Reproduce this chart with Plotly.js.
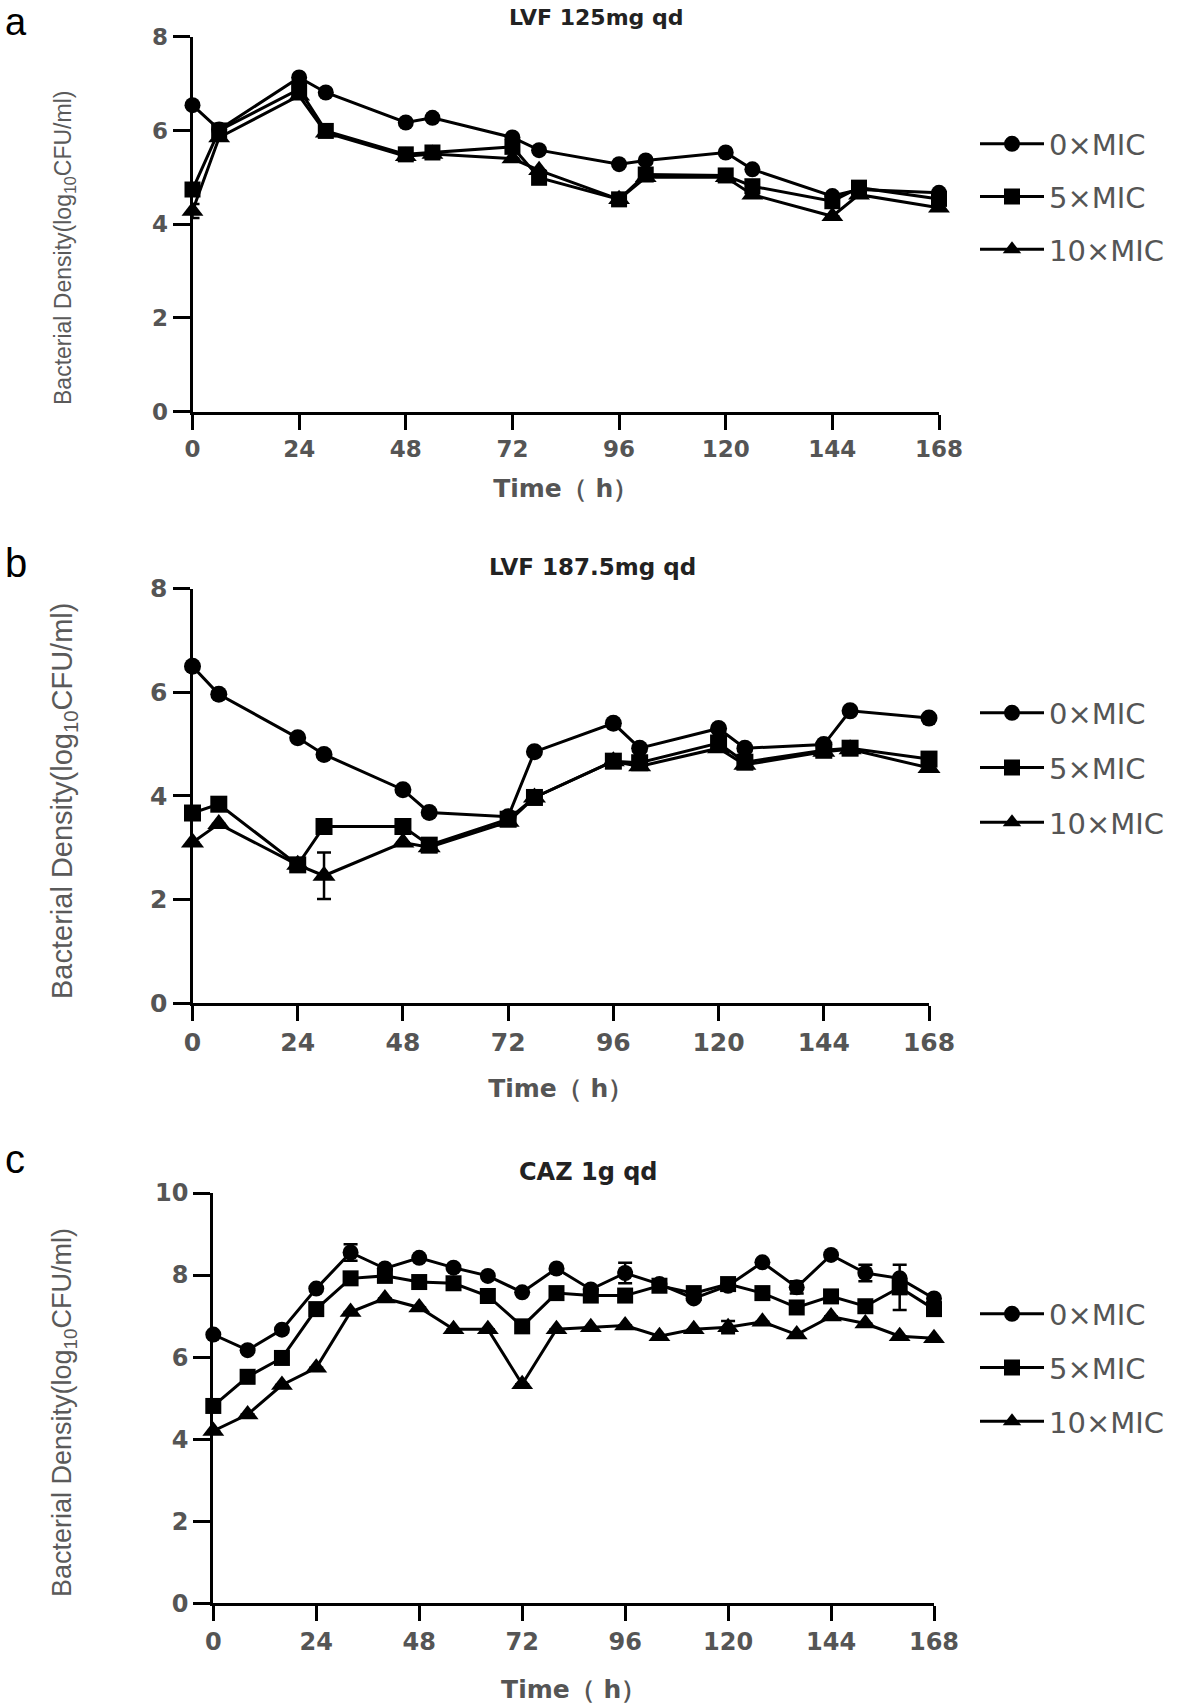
<!DOCTYPE html>
<html>
<head>
<meta charset="utf-8">
<script src="https://cdn.plot.ly/plotly-3.0.1.min.js"></script>
<style>html,body{margin:0;padding:0;background:#fff;}#chart{width:1181px;height:1705px;}</style>
</head>
<body>
<div id="chart"></div>
<script>
// ---------- data ----------
var seriesNames = ["0×MIC", "5×MIC", "10×MIC"];
var panelTitles = ["LVF 125mg qd", "LVF 187.5mg qd", "CAZ 1g qd"];
var panelLetters = ["a", "b", "c"];
var xTitle = "Time（ h）";
var yTitle = "Bacterial Density(log<sub>10</sub>CFU/ml)";
var xTicks = [0, 24, 48, 72, 96, 120, 144, 168];
var yTicksAB = [0, 2, 4, 6, 8];
var yTicksC = [0, 2, 4, 6, 8, 10];

// panel a : LVF 125mg qd
var timeA = [0, 6, 24, 30, 48, 54, 72, 78, 96, 102, 120, 126, 144, 150, 168];
var a0  = [6.54, 6.02, 7.13, 6.81, 6.17, 6.27, 5.85, 5.58, 5.28, 5.36, 5.53, 5.17, 4.60, 4.74, 4.67];
var a5  = [4.74, 6.00, 6.88, 5.99, 5.49, 5.53, 5.65, 4.99, 4.53, 5.06, 5.04, 4.81, 4.49, 4.78, 4.54];
var a10 = [4.28, 5.85, 6.74, 5.95, 5.45, 5.50, 5.40, 5.15, 4.53, 5.00, 5.00, 4.63, 4.17, 4.63, 4.35];
var a0err  = [0,0,0,0,0,0,0,0,0,0,0,0,0,0,0];
var a5err  = [0,0,0,0,0,0,0,0,0,0,0,0,0,0,0];
var a10err = [0.15,0,0,0,0,0,0,0,0,0,0,0,0,0,0];

// panel b : LVF 187.5mg qd
var timeB = [0, 6, 24, 30, 48, 54, 72, 78, 96, 102, 120, 126, 144, 150, 168];
var b0  = [6.50, 5.96, 5.12, 4.80, 4.12, 3.68, 3.60, 4.85, 5.40, 4.92, 5.30, 4.92, 4.99, 5.64, 5.50];
var b5  = [3.67, 3.84, 2.67, 3.41, 3.41, 3.05, 3.55, 3.97, 4.67, 4.64, 5.02, 4.65, 4.88, 4.92, 4.71];
var b10 = [3.10, 3.46, 2.67, 2.46, 3.10, 3.01, 3.50, 3.97, 4.67, 4.57, 4.92, 4.60, 4.85, 4.90, 4.54];
var b0err  = [0,0,0,0,0,0,0,0,0,0,0,0,0,0,0];
var b5err  = [0,0,0,0,0,0,0,0,0,0,0,0,0,0,0];
var b10err = [0,0,0,0.45,0,0,0,0,0,0,0,0,0,0,0];

// panel c : CAZ 1g qd
var timeC = [0, 8, 16, 24, 32, 40, 48, 56, 64, 72, 80, 88, 96, 104, 112, 120, 128, 136, 144, 152, 160, 168];
var c0  = [6.55, 6.17, 6.67, 7.67, 8.55, 8.16, 8.42, 8.18, 7.98, 7.58, 8.16, 7.65, 8.05, 7.78, 7.43, 7.74, 8.31, 7.70, 8.49, 8.05, 7.92, 7.43];
var c5  = [4.81, 5.52, 5.98, 7.17, 7.92, 7.98, 7.83, 7.80, 7.49, 6.75, 7.56, 7.50, 7.50, 7.74, 7.56, 7.78, 7.56, 7.21, 7.48, 7.24, 7.70, 7.17];
var c10 = [4.20, 4.60, 5.32, 5.74, 7.10, 7.43, 7.21, 6.68, 6.68, 5.34, 6.68, 6.73, 6.77, 6.51, 6.68, 6.73, 6.86, 6.55, 6.99, 6.82, 6.51, 6.46];
var c0err  = [0,0,0,0,0.2,0,0,0,0,0,0,0,0.25,0,0,0,0,0.15,0,0.2,0,0];
var c5err  = [0,0,0,0,0,0,0,0,0,0,0,0,0,0,0,0,0,0,0,0,0.55,0];
var c10err = [0,0,0,0,0,0,0,0,0,0,0,0,0,0,0,0.15,0,0,0,0,0,0];

// ---------- layout helpers ----------
var W = 1181, H = 1705;
function px(x) { return x / W; }
function py(y) { return 1 - y / H; }

var symbols = ["circle", "square", "triangle-up"];
var symbolBoost = [0, 0, 3];
var panels = [
  {t: timeA, ys: [a0, a5, a10], es: [a0err, a5err, a10err], xa: "x", ya: "y", lg: "legend", ms: 16},
  {t: timeB, ys: [b0, b5, b10], es: [b0err, b5err, b10err], xa: "x2", ya: "y2", lg: "legend2", ms: 17},
  {t: timeC, ys: [c0, c5, c10], es: [c0err, c5err, c10err], xa: "x3", ya: "y3", lg: "legend3", ms: 16}
];

var traces = [];
panels.forEach(function (p, pi) {
  for (var s = 0; s < 3; s++) {
    traces.push({
      type: "scatter", mode: "lines+markers",
      x: p.t, y: p.ys[s], xaxis: p.xa, yaxis: p.ya,
      name: seriesNames[s], legend: p.lg, legendgroup: "p" + pi + "s" + s,
      line: {color: "#000", width: 3},
      marker: {symbol: symbols[s], size: p.ms + symbolBoost[s], color: "#000"},
      error_y: {type: "data", array: p.es[s], visible: true, color: "#000", thickness: 2.5, width: 7},
      cliponaxis: false
    });
  }
});

var tickFontA = {family: "DejaVu Sans", size: 23, color: "#555", weight: "bold"};
var tickFontB = {family: "DejaVu Sans", size: 25, color: "#555", weight: "bold"};
var tickFontC = {family: "DejaVu Sans", size: 24, color: "#555", weight: "bold"};
var xTitleFont = {family: "DejaVu Sans", size: 25, color: "#555", weight: "bold"};

function xAxis(d0, d1, anchor, tf, standoff) {
  return {
    domain: [px(d0), px(d1)], anchor: anchor, range: [0, 168],
    tickmode: "array", tickvals: xTicks, ticktext: xTicks.map(String),
    showline: true, linecolor: "#000", linewidth: 3,
    ticks: "outside", ticklen: 15, tickwidth: 3, tickcolor: "#000",
    showgrid: false, zeroline: false, tickfont: tf,
    title: {text: xTitle, font: xTitleFont, standoff: standoff}
  };
}
function yAxis(y0, y1, anchor, tf, maxv, tv) {
  return {
    domain: [py(y0), py(y1)], anchor: anchor, range: [0, maxv],
    tickmode: "array", tickvals: tv, ticktext: tv.map(String),
    showline: true, linecolor: "#000", linewidth: 3,
    ticks: "outside", ticklen: 17, tickwidth: 3, tickcolor: "#000",
    showgrid: false, zeroline: false, tickfont: tf
  };
}

var legendFont = {family: "DejaVu Sans", size: 29, color: "#555"};
function legendAt(yc, gap) {
  return {
    x: px(975), y: py(yc), xanchor: "left", yanchor: "middle",
    font: legendFont, bgcolor: "rgba(0,0,0,0)", borderwidth: 0,
    traceorder: "grouped", tracegroupgap: gap, itemwidth: 64
  };
}

function yTitleAnn(yc, size) {
  return {
    text: yTitle, xref: "paper", yref: "paper", x: px(64), y: py(yc),
    xanchor: "center", yanchor: "middle", textangle: -90, showarrow: false,
    font: {family: "Liberation Sans", size: size, color: "#5a5a5a"}
  };
}
function titleAnn(text, xc, yc, size) {
  return {
    text: text, xref: "paper", yref: "paper", x: px(xc), y: py(yc),
    xanchor: "center", yanchor: "middle", showarrow: false,
    font: {family: "DejaVu Sans", size: size, color: "#222", weight: "bold"}
  };
}
function letterAnn(text, yc, size) {
  return {
    text: text, xref: "paper", yref: "paper", x: px(3), y: py(yc),
    xanchor: "left", yanchor: "middle", showarrow: false,
    font: {family: "Liberation Sans", size: size, color: "#000"}
  };
}

var layout = {
  width: W, height: H, autosize: false,
  margin: {l: 0, r: 0, t: 0, b: 0},
  paper_bgcolor: "#fff", plot_bgcolor: "#fff",
  showlegend: true,
  xaxis: xAxis(192.5, 939, "y", tickFontA, 19),
  yaxis: yAxis(411.7, 36.7, "x", tickFontA, 8, yTicksAB),
  xaxis2: xAxis(192.5, 929, "y2", tickFontB, 24),
  yaxis2: yAxis(1003.3, 588.5, "x2", tickFontB, 8, yTicksAB),
  xaxis3: xAxis(213.3, 934, "y3", tickFontC, 26),
  yaxis3: yAxis(1603.3, 1193, "x3", tickFontC, 10, yTicksC),
  legend: legendAt(197, 12),
  legend2: legendAt(768, 14),
  legend3: legendAt(1368, 13),
  annotations: [
    titleAnn(panelTitles[0], 596, 17, 22),
    titleAnn(panelTitles[1], 592, 567, 23),
    titleAnn(panelTitles[2], 588, 1172, 24),
    yTitleAnn(248, 23),
    yTitleAnn(801, 29),
    yTitleAnn(1413, 27),
    letterAnn(panelLetters[0], 22, 38),
    letterAnn(panelLetters[1], 563, 40),
    letterAnn(panelLetters[2], 1159, 40)
  ]
};

Plotly.newPlot("chart", traces, layout, {displayModeBar: false, staticPlot: true});
</script>
</body>
</html>
